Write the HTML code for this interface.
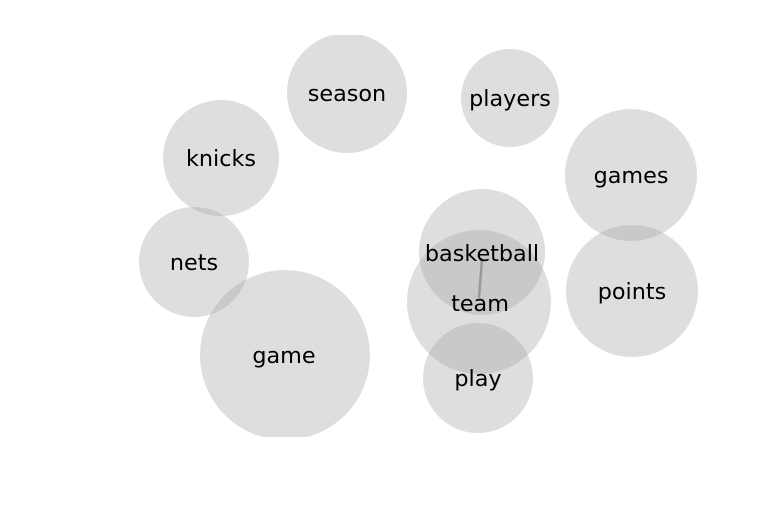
<!DOCTYPE html>
<html><head><style>html,body{margin:0;padding:0;background:#fff;}</style></head>
<body>
<svg width="768" height="500" xmlns="http://www.w3.org/2000/svg" font-family="DejaVu Sans, sans-serif" font-size="22.3" text-anchor="middle">
<defs><clipPath id="c"><rect x="0" y="35" width="768" height="402"/></clipPath></defs>
<g clip-path="url(#c)" fill="#a4a4a4" fill-opacity="0.36">
<circle cx="347" cy="93" r="60"/>
<circle cx="510" cy="98" r="49"/>
<circle cx="221" cy="158" r="58"/>
<circle cx="631" cy="175" r="66"/>
<circle cx="194" cy="262" r="55"/>
<circle cx="482" cy="252" r="63"/>
<circle cx="479" cy="302" r="72"/>
<circle cx="632" cy="291" r="66"/>
<circle cx="285" cy="355" r="85"/>
<circle cx="478" cy="378" r="55"/>
</g>
<line x1="482" y1="258" x2="479" y2="298" stroke="#999" stroke-width="2.5"/>
<g fill="#000">
<text x="347" y="101">season</text>
<text x="510" y="106">players</text>
<text x="221" y="166">knicks</text>
<text x="631" y="183">games</text>
<text x="194" y="270">nets</text>
<text x="482" y="261">basketball</text>
<text x="480" y="311">team</text>
<text x="632" y="299">points</text>
<text x="284" y="363">game</text>
<text x="478" y="386">play</text>
</g>
</svg>
</body></html>
